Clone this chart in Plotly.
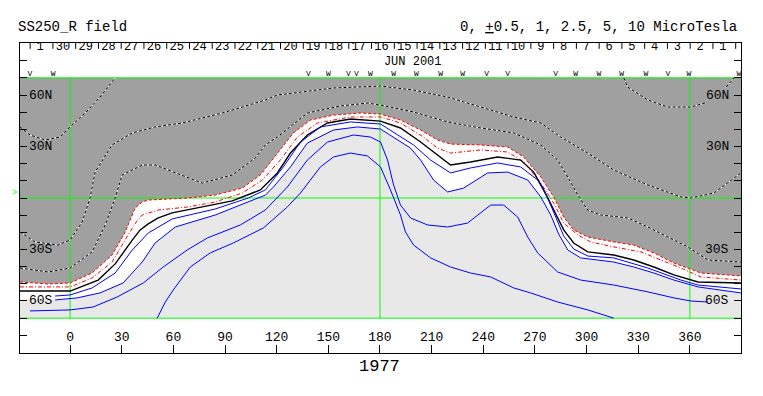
import plotly.graph_objects as go

# ---------------- axes / frame ----------------
LON_MIN, LON_MAX = -29.1, 389.7
LAT_FRAME = 90.3
LAT_EDGE = 70
LON_TICKS = [0, 30, 60, 90, 120, 150, 180, 210, 240, 270, 300, 330, 360]
LAT_TICKS = [-80, -70, -60, -50, -40, -30, -20, -10, 0, 10, 20, 30, 40, 50, 60, 70, 80]
LAT_LABEL_VALS = [60, 30, -30, -60]
LAT_LABEL_TEXT = ["60N", "30N", "30S", "60S"]
GRID_LONS = [0, 180, 360]
GRID_LATS = [-70, 0, 70]

# ---------------- top day strip ----------------
DAY_LABELS = ["1", "30", "29", "28", "27", "26", "25", "24", "23", "22", "21", "20",
              "19", "18", "17", "16", "15", "14", "13", "12", "11", "10", "9", "8",
              "7", "6", "5", "4", "3", "2", "1"]
DAY_RIGHT_LON = 379.2
DAY_STEP = 13.22
MONTH_TEXT = "JUN 2001"
ROTATION = "1977"

IMF_LON = [-23.3, -9.9, 138.4, 150.1, 161.7, 166.3, 174.5, 187.9, 201.2, 215.2, 228.0,
           241.9, 254.2, 282.1, 293.7, 307.1, 320.4, 334.4, 347.2, 359.4, 388.5]
IMF_SIGN = ["V", "W", "V", "W", "V", "V", "W", "W", "W", "W", "W",
            "V", "V", "V", "W", "W", "W", "W", "V", "W", "W"]

# ---------------- contour lines (lon, lat) ----------------
# -1 uT (outer red)
RO_LON = [-29.1, -12.8, 0, 12.8, 24.4, 32.0, 37.8, 41.9, 45.4, 55.3, 68.6, 84.3, 100.0, 110.5,
          120.4, 129.7, 139.6, 153.0, 168.7, 180.3, 191.9, 203.6, 213.4, 221.0, 238.5, 254.2,
          263.5, 273.4, 280.9, 286.7, 292.5, 300.7, 315.8, 327.4, 339.1, 350.7, 358.8, 366.4, 389.7]
RO_LAT = [-48.9, -50.1, -49.5, -43.7, -33.2, -19.8, -5.8, -2.3, -1.2, -0.6, 0, 1.7, 5.8, 13.4,
          26.2, 37.9, 45.4, 48.3, 49.5, 48.9, 45.4, 39.6, 33.8, 31.4, 30.9, 29.7,
          23.9, 12.2, 0.6, -11.1, -18.6, -22.7, -25.6, -27.4, -32.0, -37.9, -40.8, -43.7, -45.4]
# -0.5 uT (inner red)
RI_LON = [-29.1, 0, 12.8, 24.4, 33.7, 38.4, 41.9, 51.2, 68.6, 84.3, 100.0, 111.7, 122.1, 132.0,
          143.7, 162.8, 180.3, 191.9, 205.3, 213.4, 221.0, 238.5, 254.2, 263.5, 273.4, 280.9,
          286.7, 294.9, 302.4, 315.8, 331.5, 343.1, 354.8, 366.4, 389.7]
RI_LAT = [-51.8, -51.8, -46.6, -37.3, -21.5, -14.0, -9.9, -7.0, -5.2, -2.3, 2.9, 10.5, 22.1, 35.5,
          43.7, 47.2, 47.2, 43.7, 35.5, 29.1, 26.2, 28.0, 26.8, 21.0, 8.7, -2.9,
          -14.6, -21.5, -25.6, -28.5, -31.4, -36.1, -40.8, -46.0, -47.8]
# 0 (neutral line)
BK_LON = [-29.1, 0, 16.3, 26.2, 36.1, 40.7, 45.4, 51.2, 59.3, 74.4, 94.2, 110.5, 120.4, 128.0,
          137.8, 149.5, 162.8, 180.3, 191.9, 203.6, 215.2, 221.0, 232.6, 248.3, 261.7, 269.3,
          275.1, 280.9, 286.7, 292.5, 300.7, 315.8, 327.4, 339.1, 350.7, 364.7, 389.7]
BK_LAT = [-54.2, -54.2, -47.8, -38.4, -24.5, -18.6, -15.1, -11.6, -8.7, -5.8, -1.7, 4.7, 14.6, 26.2,
          36.7, 43.7, 46.0, 44.8, 40.8, 32.6, 23.3, 19.2, 21.0, 23.9, 22.1, 15.1,
          4.7, -7.0, -18.6, -26.2, -31.4, -33.2, -36.1, -40.2, -44.8, -48.9, -49.5]
# +0.5 uT
B1_LON = [-8.7, 0, 12.8, 26.2, 36.1, 45.4, 59.3, 84.3, 103.5, 113.4, 123.9, 133.8, 145.4, 162.8,
          180.3, 199.5, 209.4, 215.2, 221.0, 232.6, 248.3, 261.7, 271.6, 277.4, 282.7, 286.7,
          292.5, 300.7, 315.8, 335.6, 354.8, 364.7, 389.7]
B1_LAT = [-57.1, -56.5, -52.4, -43.7, -30.3, -20.4, -12.2, -6.4, 0, 4.7, 18.1, 32.6, 41.4, 44.3,
          43.1, 30.9, 22.1, 18.1, 14.6, 17.5, 20.4, 18.1, 10.5, 0, -12.8, -22.1,
          -29.7, -33.8, -34.9, -40.8, -47.8, -50.7, -53.0]
# +1 uT
B2_LON = [-8.7, 4.1, 17.4, 30.8, 41.9, 49.4, 61.1, 84.3, 113.4, 118.1, 128.0, 137.8, 153.0, 166.9,
          180.3, 197.7, 203.6, 211.1, 219.3, 228.6, 242.5, 254.2, 265.8, 273.4, 279.2, 283.8,
          289.1, 296.6, 315.8, 327.4, 339.1, 350.7, 364.7, 389.7]
B2_LAT = [-59.4, -58.2, -55.3, -49.5, -37.3, -26.2, -16.9, -9.9, 1.7, 6.4, 18.1, 32.0, 39.6, 41.4,
          40.2, 29.1, 22.1, 10.5, 3.5, 5.8, 14.6, 15.1, 10.5, 0.6, -9.9, -21.0,
          -30.3, -34.9, -37.3, -40.2, -43.7, -47.8, -51.8, -55.3]
# +2.5 uT
B3_LON = [-23.3, 0, 13.4, 27.3, 42.5, 54.1, 68.0, 79.7, 98.9, 113.4, 126.2, 137.8, 149.5, 164.6,
          174.5, 180.3, 184.4, 187.9, 191.9, 197.7, 207.6, 219.3, 230.9, 238.5, 244.3, 251.8,
          260.0, 265.8, 271.6, 283.2, 296.6, 315.8, 335.6, 350.7, 360.6, 370.5]
B3_LAT = [-65.8, -65.2, -63.5, -57.7, -49.5, -40.2, -30.3, -23.3, -15.7, -7.0, 6.4, 22.1, 32.6, 36.7,
          35.5, 32.6, 22.1, 7.6, -4.1, -11.6, -15.7, -16.9, -14.6, -8.7, -4.1, -4.1,
          -11.1, -22.7, -32.0, -43.1, -47.8, -50.7, -54.7, -58.2, -60.0, -60.6]
# +5 uT
B4_LON = [50.6, 55.3, 59.9, 69.8, 81.4, 94.8, 112.2, 126.2, 133.8, 145.4, 153.0, 162.8, 172.7,
          180.3, 186.1, 191.9, 194.8, 199.5, 209.4, 221.0, 232.6, 244.3, 257.7, 267.5, 283.2,
          300.7, 315.8]
B4_LAT = [-70, -60.6, -53.6, -40.2, -32.0, -26.2, -17.5, -5.2, 2.9, 18.1, 23.9, 26.2, 24.5,
          18.1, 4.7, -9.9, -19.8, -27.4, -34.9, -40.2, -43.7, -46.0, -52.4, -55.3, -60.6,
          -65.2, -70]
# -2.5 uT (dotted, in the grey)
N25_LON = [-29.1, -12.8, 0, 12.8, 20.4, 26.2, 30.2, 41.9, 49.4, 61.1, 76.8, 94.2, 107.6, 113.4,
           120.4, 137.8, 157.0, 172.7, 180.3, 199.5, 219.3, 238.5, 257.7, 273.4, 283.2, 289.1,
           294.9, 300.7, 308.2, 323.9, 335.6, 347.2, 358.8, 370.5, 389.7]
N25_LAT = [-40.8, -43.1, -40.8, -31.4, -15.7, 0, 13.4, 19.2, 19.2, 14.6, 8.7, 13.4, 23.3, 30.9,
           35.5, 49.5, 53.6, 55.3, 54.2, 50.1, 44.3, 40.8, 37.9, 30.9, 22.1, 12.2,
           1.7, -7.0, -9.9, -11.6, -16.9, -22.7, -28.5, -36.1, -37.3]
# -5 uT
N5_LON = [-29.1, -20.4, -7.0, 0, 7.0, 11.6, 14.5, 24.4, 36.1, 49.4, 65.1, 76.8, 88.4, 100.0,
          113.4, 120.4, 153.0, 180.3, 199.5, 219.3, 238.5, 257.7, 273.4, 285.0, 300.7, 315.8,
          335.6, 354.8, 360.6, 374.0, 389.7]
N5_LAT = [-19.8, -25.6, -27.4, -24.5, -14.0, 0, 15.1, 30.9, 37.9, 41.4, 43.7, 46.6, 49.5, 53.0,
          57.1, 60.0, 64.1, 65.2, 62.9, 58.8, 53.0, 47.2, 43.7, 35.5, 26.2, 16.3,
          7.6, 0.6, 0, 2.9, 14.6]
# -10 uT (two pieces)
N10A_LON = [-29.1, -23.3, -14.5, -5.8, 0, 8.7, 17.4, 26.2]
N10A_LAT = [41.4, 36.7, 33.8, 35.5, 41.4, 49.5, 58.8, 70]
N10B_LON = [321.6, 323.9, 335.6, 347.2, 360.6, 370.5, 378.1, 385.7]
N10B_LAT = [70, 64.6, 57.1, 53.0, 53.0, 55.9, 61.2, 70]

# ---------------- styles ----------------
FONT = "Liberation Mono"
DARK = "#a0a0a0"
LIGHT = "#e8e8e8"
GREEN = "#00ff00"

fig = go.Figure()

fig.add_shape(type="rect", x0=LON_MIN, x1=LON_MAX, y0=-LAT_EDGE, y1=LAT_EDGE,
              fillcolor=LIGHT, line_width=0, layer="below")

# white band (north of +1 contour)
fig.add_trace(go.Scatter(
    x=[LON_MIN] + B2_LON + [LON_MAX, LON_MIN],
    y=[B2_LAT[0]] + B2_LAT + [LAT_EDGE, LAT_EDGE],
    fill="toself", fillcolor="white", mode="lines", line=dict(width=0),
    hoverinfo="skip", showlegend=False))
# dark grey (north of -1 contour)
fig.add_trace(go.Scatter(
    x=RO_LON + [LON_MAX, LON_MIN],
    y=RO_LAT + [LAT_EDGE, LAT_EDGE],
    fill="toself", fillcolor=DARK, mode="lines", line=dict(width=0),
    hoverinfo="skip", showlegend=False))

# green grid
gx, gy = [], []
for lo in GRID_LONS:
    gx += [lo, lo, None]
    gy += [-LAT_EDGE, LAT_EDGE, None]
for la in GRID_LATS:
    gx += [LON_MIN, LON_MAX, None]
    gy += [la, la, None]
fig.add_trace(go.Scatter(x=gx, y=gy, mode="lines", line=dict(color=GREEN, width=1),
                         hoverinfo="skip", showlegend=False))


def add_line(xs, ys, color, width=1.0, dash="solid"):
    fig.add_trace(go.Scatter(x=xs, y=ys, mode="lines",
                             line=dict(color=color, width=width, dash=dash),
                             hoverinfo="skip", showlegend=False))


for xs, ys in [(N25_LON, N25_LAT), (N5_LON, N5_LAT), (N10A_LON, N10A_LAT), (N10B_LON, N10B_LAT)]:
    add_line(xs, ys, "white", 1)
    add_line(xs, ys, "black", 1, "3px,2px")

add_line(RO_LON, RO_LAT, "#ff0000", 1, "3px,2px")
add_line(RI_LON, RI_LAT, "#ff0000", 1, "4px,2px,1px,2px")
add_line(BK_LON, BK_LAT, "black", 1.4)
for xs, ys in [(B1_LON, B1_LAT), (B2_LON, B2_LAT), (B3_LON, B3_LAT), (B4_LON, B4_LAT)]:
    add_line(xs, ys, "#0000ff", 1)

# ---------------- texts in data coordinates ----------------
day_lons = [DAY_RIGHT_LON - (len(DAY_LABELS) - 1 - i) * DAY_STEP for i in range(len(DAY_LABELS))]
fig.add_trace(go.Scatter(x=day_lons, y=[87.9] * len(day_lons), mode="text", text=DAY_LABELS,
                         textfont=dict(family=FONT, size=12, color="black"),
                         hoverinfo="skip", showlegend=False))
tick_lons = [lo - 5.8 for lo in day_lons] + [DAY_RIGHT_LON + DAY_STEP - 5.8]
for lo in tick_lons:
    if LON_MIN < lo < LON_MAX:
        fig.add_shape(type="line", x0=lo, x1=lo, y0=LAT_FRAME, y1=LAT_FRAME - 3.4,
                      line=dict(color="black", width=1))

fig.add_trace(go.Scatter(x=[199], y=[79.4], mode="text", text=[MONTH_TEXT],
                         textfont=dict(family=FONT, size=12, color="black"),
                         hoverinfo="skip", showlegend=False))
fig.add_trace(go.Scatter(x=IMF_LON, y=[72.3] * len(IMF_LON), mode="text", text=IMF_SIGN,
                         textfont=dict(family=FONT, size=8, color="black"),
                         hoverinfo="skip", showlegend=False))
fig.add_trace(go.Scatter(x=LON_TICKS, y=[-81.3] * len(LON_TICKS), mode="text",
                         text=[str(v) for v in LON_TICKS],
                         textfont=dict(family=FONT, size=13, color="black"),
                         hoverinfo="skip", showlegend=False))

ann = []
for v, t in zip(LAT_LABEL_VALS, LAT_LABEL_TEXT):
    ann.append(dict(x=0, xref="paper", y=v, yref="y", text=t, showarrow=False,
                    xanchor="left", xshift=7, font=dict(family=FONT, size=13, color="black")))
    right = dict(x=1, xref="paper", y=v, yref="y", text=t, showarrow=False,
                 xanchor="right", xshift=-11, font=dict(family=FONT, size=13, color="black"),
                 borderpad=0)
    if v == 60:
        right["bgcolor"] = DARK
    ann.append(right)

ann.append(dict(x=0, xref="paper", y=3, yref="y", text="&gt;", showarrow=False,
                xanchor="right", xshift=-1, font=dict(family=FONT, size=9, color=GREEN)))
ann.append(dict(x=0, xref="paper", y=1, yref="paper", text="SS250_R field", showarrow=False,
                xanchor="left", yanchor="middle", xshift=-4, yshift=16,
                font=dict(family=FONT, size=14, color="black")))
ann.append(dict(x=1, xref="paper", y=1, yref="paper",
                text="0, <u>+</u>0.5, 1, 2.5, 5, 10 MicroTesla", showarrow=False,
                xanchor="right", yanchor="middle", xshift=-2, yshift=16,
                font=dict(family=FONT, size=14, color="black")))
ann.append(dict(x=180, xref="x", y=0, yref="paper", text=ROTATION, showarrow=False,
                yanchor="middle", yshift=-13,
                font=dict(family=FONT, size=17, color="black")))

# the page body has an 8px margin, so the figure is sized/offset to compensate
fig.update_layout(
    width=755, height=388, autosize=False,
    margin=dict(l=12, r=22, t=35, b=43),
    paper_bgcolor="white", plot_bgcolor="white",
    showlegend=False, hovermode=False,
    annotations=ann,
    xaxis=dict(range=[LON_MIN, LON_MAX], showgrid=False, zeroline=False,
               showline=True, linecolor="black", linewidth=1, mirror=True,
               ticks="inside", ticklen=8, tickcolor="black", tickwidth=1,
               tickvals=LON_TICKS, showticklabels=False, fixedrange=True),
    yaxis=dict(range=[-LAT_FRAME, LAT_FRAME], showgrid=False, zeroline=False,
               showline=True, linecolor="black", linewidth=1, mirror="ticks",
               ticks="inside", ticklen=7, tickcolor="black", tickwidth=1,
               tickvals=LAT_TICKS, showticklabels=False, fixedrange=True),
)

fig.write_html("out.html", config={"displayModeBar": False})
